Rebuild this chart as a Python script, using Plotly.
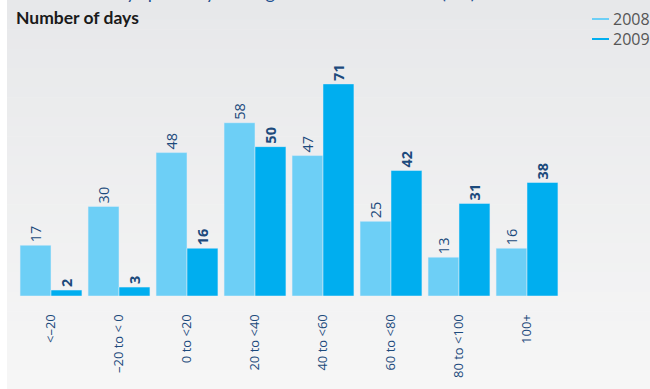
import plotly.graph_objects as go

# Daily trading revenue bands (€m) and number of days in each band
categories = ["<–20", "–20 to < 0", "0 to <20", "20 to <40",
              "40 to <60", "60 to <80", "80 to <100", "100+"]
days_2008 = [17, 30, 48, 58, 47, 25, 13, 16]
days_2009 = [2, 3, 16, 50, 71, 42, 31, 38]
series_names = ["2008", "2009"]

W, H = 650, 389
PLOT_L, PLOT_R, PLOT_T, PLOT_B = 17, 561, 57, 296
C_LIGHT = "#6dcff6"
C_DARK = "#00aeef"
C_NAVY = "#1c4a7c"


def px(x):
    return (x - PLOT_L) / (PLOT_R - PLOT_L)


def py(y):
    return (PLOT_B - y) / (PLOT_B - PLOT_T)


fig = go.Figure()
fig.add_trace(go.Bar(
    x=categories, y=days_2008, name=series_names[0], marker_color=C_LIGHT,
    text=days_2008, textposition="outside", textangle=-90,
    textfont=dict(size=14.5, color=C_NAVY, family="Open Sans"),
    cliponaxis=False, showlegend=False,
))
fig.add_trace(go.Bar(
    x=categories, y=days_2009, name=series_names[1], marker_color=C_DARK,
    texttemplate="<b>%{y}</b>", textposition="outside", textangle=-90,
    textfont=dict(size=14.5, color=C_NAVY, family="Open Sans"),
    cliponaxis=False, showlegend=False,
))

# Panel background: soft vertical gradient built from thin bands
shapes = []
top_rgb = (231, 232, 234)
bot_rgb = (246, 246, 246)
n = 40
y0_px, y1_px = 0, H
for i in range(n):
    t = i / (n - 1)
    r, g, b = (round(a + (c - a) * t) for a, c in zip(top_rgb, bot_rgb))
    ya = y0_px + (y1_px - y0_px) * i / n
    yb = y0_px + (y1_px - y0_px) * (i + 1) / n + 0.6
    shapes.append(dict(
        type="rect", xref="paper", yref="paper", layer="below",
        x0=px(7), x1=px(W + 2), y0=py(yb), y1=py(ya),
        fillcolor=f"rgb({r},{g},{b})", line=dict(width=0),
    ))

# Legend keys
for yk, col in [(19, C_LIGHT), (39, C_DARK)]:
    shapes.append(dict(
        type="line", xref="paper", yref="paper",
        x0=px(592), x1=px(609), y0=py(yk), y1=py(yk),
        line=dict(color=col, width=2),
    ))

annotations = [
    dict(text="Number of days per daily trading revenues and losses (€m)",
         xref="paper", yref="paper", x=px(16), y=py(5),
         xanchor="left", yanchor="bottom", showarrow=False,
         font=dict(size=18, color="#1d4f91", family="Lato")),
    dict(text="<b>Number of days</b>", xref="paper", yref="paper",
         x=px(14), y=py(18), xanchor="left", yanchor="middle",
         showarrow=False,
         font=dict(size=17.5, color="#1a1a1a", family="Lato")),
]
for yk, name in [(19, series_names[0]), (39, series_names[1])]:
    annotations.append(dict(
        text=name, xref="paper", yref="paper", x=px(611), y=py(yk),
        xanchor="left", yanchor="middle", showarrow=False,
        font=dict(size=16, color="#555555", family="Open Sans")))

fig.update_layout(
    width=W, height=H,
    margin=dict(l=PLOT_L, r=W - PLOT_R, t=PLOT_T, b=H - PLOT_B),
    paper_bgcolor="white", plot_bgcolor="rgba(0,0,0,0)",
    barmode="group", bargap=0.09, bargroupgap=0,
    shapes=shapes, annotations=annotations,
    xaxis=dict(
        tickangle=-90, showgrid=False, showline=False, zeroline=False,
        ticks="outside", ticklen=12, tickcolor="rgba(0,0,0,0)",
        tickfont=dict(size=13, color=C_NAVY, family="Open Sans"),
        range=[-0.5, 7.5],
    ),
    yaxis=dict(range=[0, 80], visible=False, showgrid=False),
)

fig.write_html("out.html")
